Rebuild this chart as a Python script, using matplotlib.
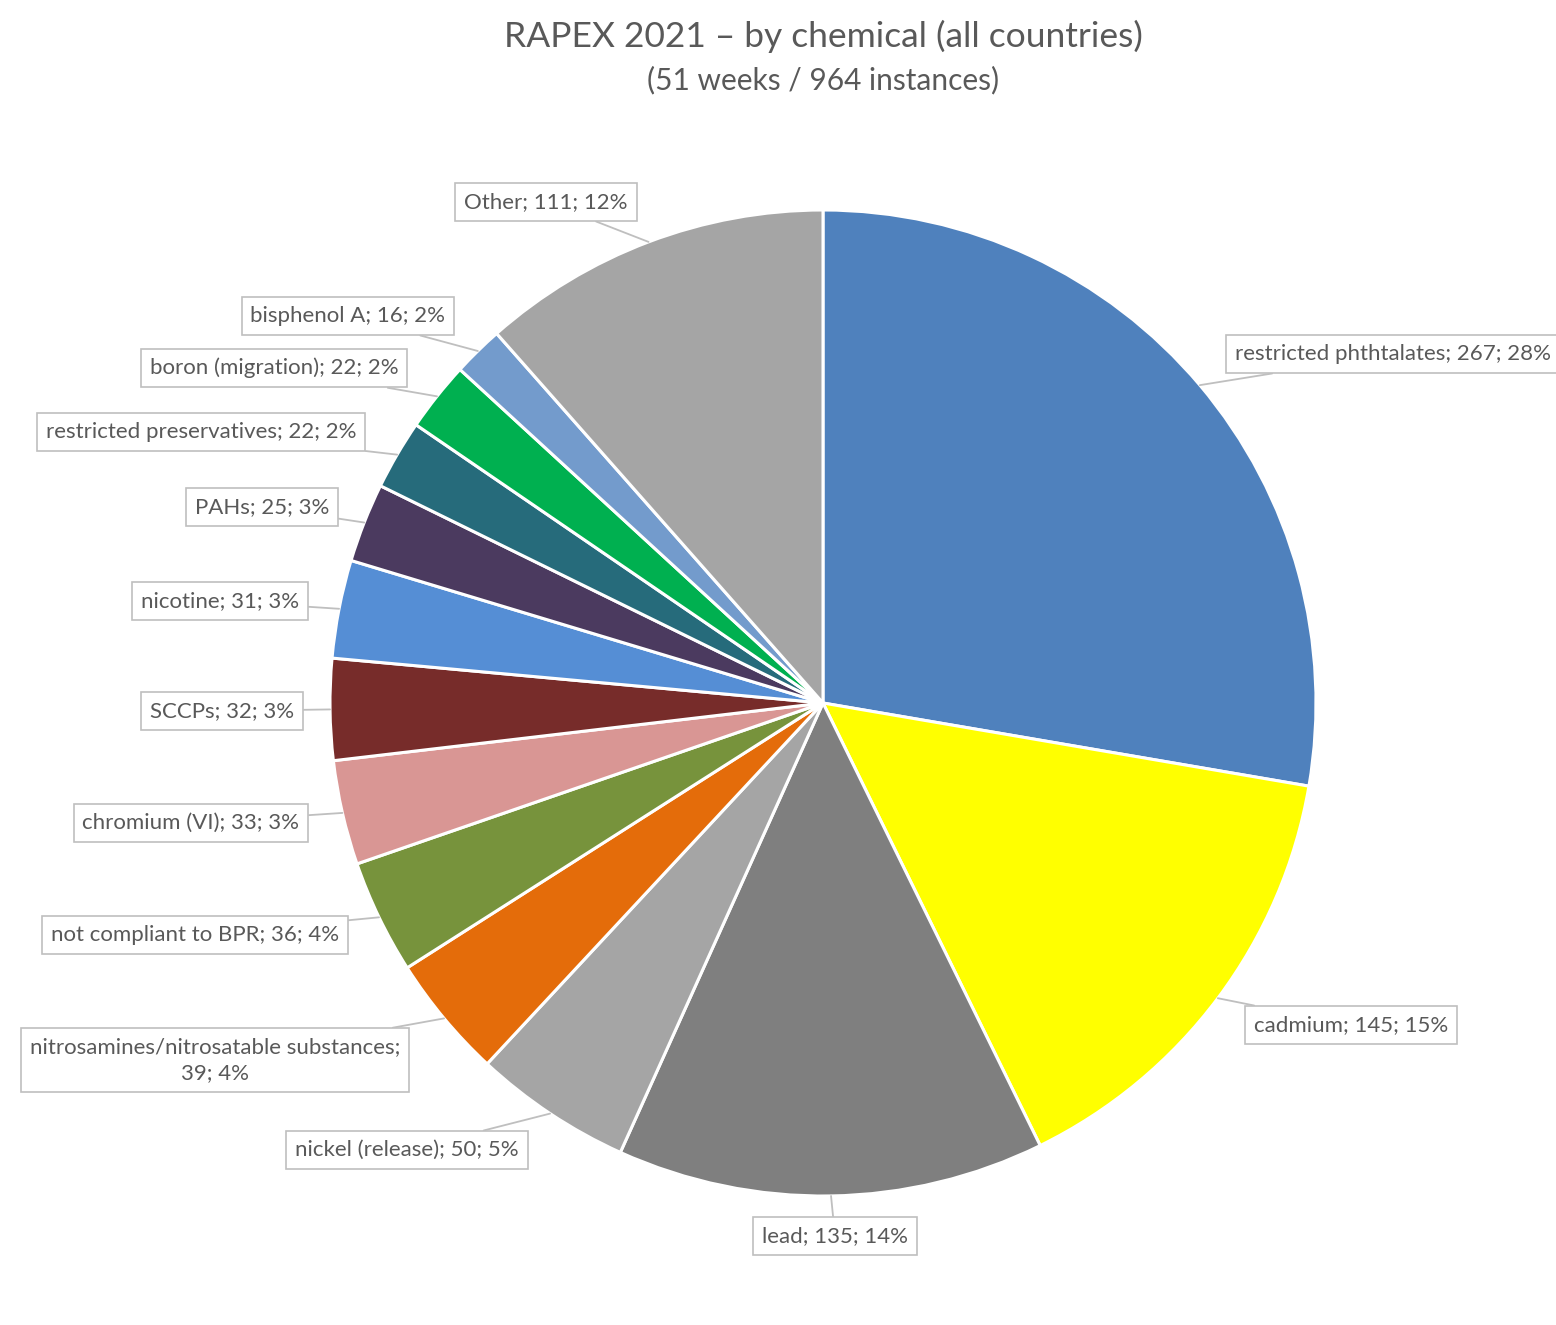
import numpy as np
import matplotlib
matplotlib.use("Agg")
import matplotlib.pyplot as plt

plt.rcParams['font.family'] = ['Lato', 'DejaVu Sans']

chemicals = ["restricted phthtalates", "cadmium", "lead", "nickel (release)",
             "nitrosamines/nitrosatable substances", "not compliant to BPR",
             "chromium (VI)", "SCCPs", "nicotine", "PAHs",
             "restricted preservatives", "boron (migration)", "bisphenol A", "Other"]
counts = [267, 145, 135, 50, 39, 36, 33, 32, 31, 25, 22, 22, 16, 111]
colors = ["#4F81BD", "#FFFF00", "#7F7F7F", "#A5A5A5", "#E46C0A", "#77933C",
          "#D99694", "#772C2A", "#558ED5", "#4B3A5F", "#266B7B", "#00B050",
          "#739BCC", "#A5A5A5"]

# label box centres in figure pixels (from top-left)
label_px = [(1235, 354), (1351, 1025), (835, 1236), (407, 1150),
            (215, 1060), (195, 935), (191, 823), (222, 711), (220, 601),
            (262, 507), (201, 432), (274, 368), (348, 316), (546, 202)]

W, H = 1556, 1325
cx, cy, R = 823, 703, 493

fig = plt.figure(figsize=(W / 100, H / 100), dpi=100)
ax = fig.add_axes([0, 0, 1, 1])

wedges, _ = ax.pie(counts, colors=colors, startangle=90, counterclock=False,
                   wedgeprops=dict(edgecolor="white", linewidth=2.2))
ax.set_xlim(-cx / R, (W - cx) / R)
ax.set_ylim(-(H - cy) / R, cy / R)
ax.set_aspect("equal")
ax.axis("off")

total = sum(counts)
for w, name, n, (px, py) in zip(wedges, chemicals, counts, label_px):
    mid = np.deg2rad((w.theta1 + w.theta2) / 2)
    tip = (np.cos(mid), np.sin(mid))
    pct = round(100 * n / total)
    if name.startswith("nitrosamines"):
        txt = f"{name};\n{n}; {pct}%"
    else:
        txt = f"{name}; {n}; {pct}%"
    ha = "left" if name == "restricted phthtalates" else "center"
    ax.annotate(txt, xy=tip, xytext=((px - cx) / R, (cy - py) / R),
                ha=ha, va="center", fontsize=16, color="#595959",
                multialignment="center", linespacing=1.35,
                bbox=dict(boxstyle="square,pad=0.4", fc="white",
                          ec="#BFBFBF", lw=1.2),
                arrowprops=dict(arrowstyle="-", color="#BFBFBF", lw=1.3,
                                shrinkA=0, shrinkB=0),
                annotation_clip=False)

fig.text(823 / W, 1 - 36 / H, "RAPEX 2021 \u2013 by chemical (all countries)",
         ha="center", va="center", fontsize=25.5, color="#595959")
fig.text(823 / W, 1 - 80 / H, "(51 weeks / 964 instances)",
         ha="center", va="center", fontsize=21.5, color="#595959")

fig.savefig("out.png", dpi=100)
